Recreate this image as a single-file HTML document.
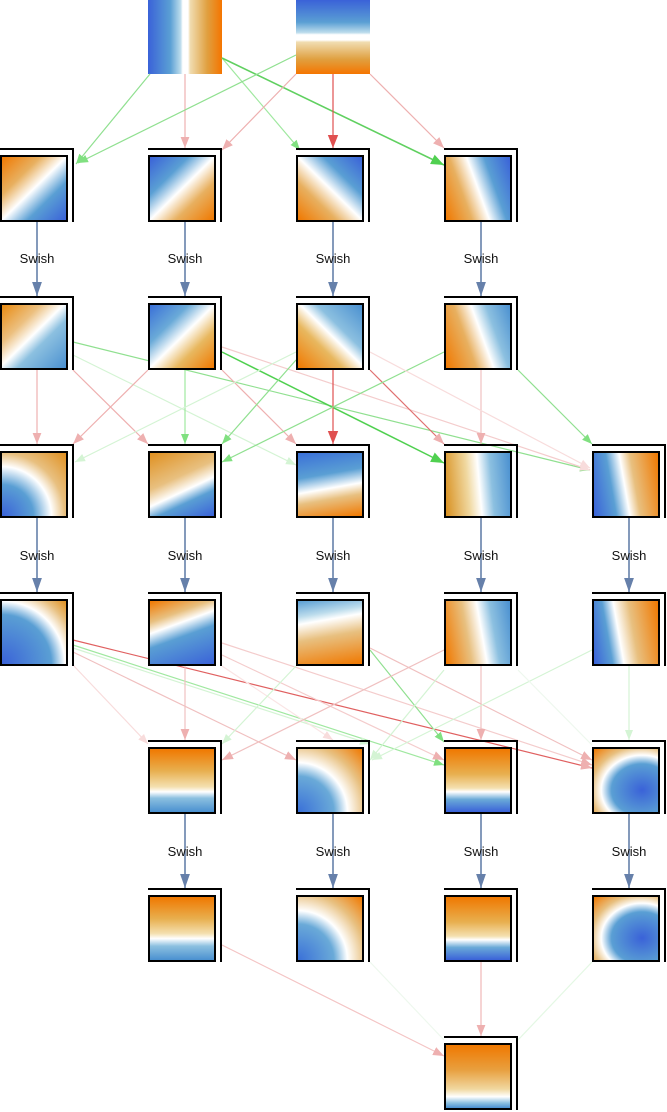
<!DOCTYPE html>
<html><head><meta charset="utf-8"><style>
body{margin:0;background:#fff;width:667px;height:1112px;position:relative;overflow:hidden;font-family:"Liberation Sans",sans-serif}
.n{position:absolute;width:74px;height:74px}
.n .f{position:absolute;left:0;top:0;width:74px;height:74px;border-top:2px solid #000;border-right:2px solid #000;box-sizing:border-box}
.n .i{position:absolute;left:0;top:7px;width:68px;height:67px;border:2px solid #000;box-sizing:border-box}
.in{position:absolute;width:74px;height:74px}
svg{position:absolute;left:0;top:0}
.lbl{position:absolute;font-size:13px;color:#111;width:60px;text-align:center}
</style></head><body>
<div class="in" style="left:148px;top:0;background:linear-gradient(to right,#3a62d8,#5a9fd4 30%,#bcdcec 44%,#fff 47%,#fff 54%,#f0dcb0 57%,#e0a040 80%,#f57500)"></div>
<div class="in" style="left:296px;top:0;background:linear-gradient(to bottom,#3a62d8,#5a9fd4 30%,#bcdcec 44%,#fff 47%,#fff 54%,#f0dcb0 57%,#e0a040 80%,#f57500)"></div>

<svg width="667" height="1112" viewBox="0 0 667 1112">
<defs>
<marker id="g" viewBox="0 0 10 10" refX="10" refY="5" markerWidth="10" markerHeight="10" markerUnits="userSpaceOnUse" orient="auto"><path d="M0,1 L10,5 L0,9z" fill="#80e080"/></marker>
<marker id="gs" viewBox="0 0 10 10" refX="10" refY="5" markerWidth="13" markerHeight="13" markerUnits="userSpaceOnUse" orient="auto"><path d="M0,1 L10,5 L0,9z" fill="#50d050"/></marker>
<marker id="gl" viewBox="0 0 10 10" refX="10" refY="5" markerWidth="10" markerHeight="10" markerUnits="userSpaceOnUse" orient="auto"><path d="M0,1 L10,5 L0,9z" fill="#d4f4d4"/></marker>
<marker id="p" viewBox="0 0 10 10" refX="10" refY="5" markerWidth="11" markerHeight="11" markerUnits="userSpaceOnUse" orient="auto"><path d="M0,1 L10,5 L0,9z" fill="#eeb0b0"/></marker>
<marker id="pl" viewBox="0 0 10 10" refX="10" refY="5" markerWidth="10" markerHeight="10" markerUnits="userSpaceOnUse" orient="auto"><path d="M0,1 L10,5 L0,9z" fill="#f8dcdc"/></marker>
<marker id="r" viewBox="0 0 10 10" refX="10" refY="5" markerWidth="13" markerHeight="13" markerUnits="userSpaceOnUse" orient="auto"><path d="M0,1 L10,5 L0,9z" fill="#e05050"/></marker>
<marker id="b" viewBox="0 0 10 10" refX="10" refY="5" markerWidth="14" markerHeight="14" markerUnits="userSpaceOnUse" orient="auto"><path d="M0,1.5 L10,5 L0,8.5z" fill="#6680aa"/></marker>
</defs>
<g fill="none" stroke-width="1.2">
<line x1="150" y1="74" x2="76" y2="164" stroke="#90e090" marker-end="url(#g)"/>
<line x1="185" y1="74" x2="185" y2="148" stroke="#eeb0b0" marker-end="url(#p)"/>
<line x1="222" y1="58" x2="300" y2="150" stroke="#a0e8a0" marker-end="url(#g)"/>
<line x1="222" y1="58" x2="444" y2="165" stroke="#60d060" stroke-width="1.6" marker-end="url(#gs)"/>
<line x1="296" y1="55" x2="78" y2="163" stroke="#90e090" marker-end="url(#g)"/>
<line x1="296" y1="74" x2="222" y2="150" stroke="#eeb0b0" marker-end="url(#p)"/>
<line x1="333" y1="74" x2="333" y2="148" stroke="#e05050" marker-end="url(#r)"/>
<line x1="370" y1="74" x2="444" y2="148" stroke="#eeb0b0" marker-end="url(#p)"/>
<line x1="37" y1="370" x2="37" y2="444" stroke="#eeb0b0" marker-end="url(#p)"/>
<line x1="73" y1="342" x2="590" y2="470" stroke="#90e090" marker-end="url(#g)"/>
<line x1="73" y1="355" x2="296" y2="465" stroke="#d4f4d4" marker-end="url(#gl)"/>
<line x1="73" y1="370" x2="148" y2="444" stroke="#eeb0b0" marker-end="url(#p)"/>
<line x1="148" y1="370" x2="73" y2="444" stroke="#eeb0b0" marker-end="url(#p)"/>
<line x1="185" y1="370" x2="185" y2="444" stroke="#a0e8a0" marker-end="url(#g)"/>
<line x1="222" y1="347" x2="590" y2="470" stroke="#f4cccc" marker-end="url(#pl)"/>
<line x1="222" y1="370" x2="296" y2="444" stroke="#eeb0b0" marker-end="url(#p)"/>
<line x1="222" y1="352" x2="444" y2="463" stroke="#50d050" stroke-width="1.5" marker-end="url(#gs)"/>
<line x1="296" y1="360" x2="222" y2="444" stroke="#90e090" marker-end="url(#g)"/>
<line x1="296" y1="352" x2="75" y2="462" stroke="#d4f4d4" marker-end="url(#gl)"/>
<line x1="333" y1="370" x2="333" y2="444" stroke="#e05050" marker-end="url(#r)"/>
<line x1="370" y1="370" x2="444" y2="444" stroke="#e07070" marker-end="url(#p)"/>
<line x1="444" y1="352" x2="222" y2="462" stroke="#90e090" marker-end="url(#g)"/>
<line x1="481" y1="370" x2="481" y2="444" stroke="#f0c0c0" marker-end="url(#p)"/>
<line x1="518" y1="370" x2="592" y2="444" stroke="#90e090" marker-end="url(#g)"/>
<line x1="370" y1="352" x2="590" y2="468" stroke="#f8dcdc" marker-end="url(#pl)"/>
<line x1="73" y1="640" x2="592" y2="768" stroke="#e06060" marker-end="url(#p)"/>
<line x1="73" y1="645" x2="444" y2="765" stroke="#a0e8a0" marker-end="url(#g)"/>
<line x1="73" y1="652" x2="296" y2="760" stroke="#f0c0c0" marker-end="url(#p)"/>
<line x1="73" y1="665" x2="148" y2="744" stroke="#f8dcdc" marker-end="url(#pl)"/>
<line x1="73" y1="648" x2="370" y2="744" stroke="#d4f4d4" marker-end="url(#gl)"/>
<line x1="185" y1="666" x2="185" y2="740" stroke="#f0c0c0" marker-end="url(#p)"/>
<line x1="222" y1="643" x2="592" y2="765" stroke="#f4cccc" marker-end="url(#p)"/>
<line x1="222" y1="655" x2="444" y2="760" stroke="#f4cccc" marker-end="url(#p)"/>
<line x1="222" y1="666" x2="333" y2="740" stroke="#fae4e4" marker-end="url(#pl)"/>
<line x1="296" y1="666" x2="222" y2="744" stroke="#d4f4d4" marker-end="url(#gl)"/>
<line x1="370" y1="650" x2="444" y2="742" stroke="#90e090" marker-end="url(#g)"/>
<line x1="370" y1="648" x2="592" y2="760" stroke="#f0c0c0" marker-end="url(#p)"/>
<line x1="444" y1="650" x2="222" y2="760" stroke="#f0c0c0" marker-end="url(#p)"/>
<line x1="481" y1="666" x2="481" y2="740" stroke="#f0c0c0" marker-end="url(#p)"/>
<line x1="444" y1="670" x2="370" y2="760" stroke="#d4f4d4" marker-end="url(#gl)"/>
<line x1="592" y1="650" x2="372" y2="760" stroke="#d4f4d4" marker-end="url(#gl)"/>
<line x1="629" y1="666" x2="629" y2="740" stroke="#d4f4d4" marker-end="url(#gl)"/>
<line x1="518" y1="670" x2="592" y2="745" stroke="#eef8ee"/>
<line x1="222" y1="945" x2="444" y2="1056" stroke="#f4c4c4" marker-end="url(#p)"/>
<line x1="481" y1="962" x2="481" y2="1036" stroke="#f0b8b8" marker-end="url(#p)"/>
<line x1="592" y1="962" x2="518" y2="1040" stroke="#e4f8e4"/>
<line x1="370" y1="962" x2="444" y2="1040" stroke="#eef8ee"/>
<g stroke="#6680aa" stroke-width="1.6">
<line x1="37" y1="222" x2="37" y2="296" marker-end="url(#b)"/>
<line x1="185" y1="222" x2="185" y2="296" marker-end="url(#b)"/>
<line x1="333" y1="222" x2="333" y2="296" marker-end="url(#b)"/>
<line x1="481" y1="222" x2="481" y2="296" marker-end="url(#b)"/>
<line x1="37" y1="518" x2="37" y2="592" marker-end="url(#b)"/>
<line x1="185" y1="518" x2="185" y2="592" marker-end="url(#b)"/>
<line x1="333" y1="518" x2="333" y2="592" marker-end="url(#b)"/>
<line x1="481" y1="518" x2="481" y2="592" marker-end="url(#b)"/>
<line x1="629" y1="518" x2="629" y2="592" marker-end="url(#b)"/>
<line x1="185" y1="814" x2="185" y2="888" marker-end="url(#b)"/>
<line x1="333" y1="814" x2="333" y2="888" marker-end="url(#b)"/>
<line x1="481" y1="814" x2="481" y2="888" marker-end="url(#b)"/>
<line x1="629" y1="814" x2="629" y2="888" marker-end="url(#b)"/>
</g>
</g>
</svg>

<div class="lbl" style="left:7px;top:251px">Swish</div>
<div class="lbl" style="left:155px;top:251px">Swish</div>
<div class="lbl" style="left:303px;top:251px">Swish</div>
<div class="lbl" style="left:451px;top:251px">Swish</div>
<div class="lbl" style="left:7px;top:548px">Swish</div>
<div class="lbl" style="left:155px;top:548px">Swish</div>
<div class="lbl" style="left:303px;top:548px">Swish</div>
<div class="lbl" style="left:451px;top:548px">Swish</div>
<div class="lbl" style="left:599px;top:548px">Swish</div>
<div class="lbl" style="left:155px;top:844px">Swish</div>
<div class="lbl" style="left:303px;top:844px">Swish</div>
<div class="lbl" style="left:451px;top:844px">Swish</div>
<div class="lbl" style="left:599px;top:844px">Swish</div>

<div class="n" style="left:0;top:148px"><div class="f"></div><div class="i" style="background:linear-gradient(to bottom right,#f07800,#e8b060 30%,#fff 50%,#5a9fd4 70%,#3a62d8)"></div></div>
<div class="n" style="left:148px;top:148px"><div class="f"></div><div class="i" style="background:linear-gradient(to bottom right,#3a62d8,#5a9fd4 30%,#fff 50%,#e8b060 70%,#f07800)"></div></div>
<div class="n" style="left:296px;top:148px"><div class="f"></div><div class="i" style="background:linear-gradient(to bottom left,#3a62d8,#5a9fd4 30%,#fff 50%,#e8b060 70%,#f07800)"></div></div>
<div class="n" style="left:444px;top:148px"><div class="f"></div><div class="i" style="background:linear-gradient(70deg,#f07800,#e8b060 30%,#fff 50%,#5a9fd4 70%,#3a62d8)"></div></div>
<div class="n" style="left:0;top:296px"><div class="f"></div><div class="i" style="background:linear-gradient(to bottom right,#e88a10,#ecc080 30%,#fff 48%,#8cc0e0 62%,#4a90d0)"></div></div>
<div class="n" style="left:148px;top:296px"><div class="f"></div><div class="i" style="background:linear-gradient(to bottom right,#3a70d8,#6aaad8 30%,#fff 50%,#e8b860 70%,#f07800)"></div></div>
<div class="n" style="left:296px;top:296px"><div class="f"></div><div class="i" style="background:linear-gradient(to bottom left,#4a90d0,#8cc0e0 35%,#fff 48%,#e8b860 65%,#f07800)"></div></div>
<div class="n" style="left:444px;top:296px"><div class="f"></div><div class="i" style="background:linear-gradient(70deg,#f07800,#e8b060 35%,#fff 55%,#8cc0e0 72%,#4a90d0)"></div></div>
<div class="n" style="left:0;top:444px"><div class="f"></div><div class="i" style="background:radial-gradient(circle at 0% 100%,#3a62d8,#5a9fd4 35%,#fff 55%,#e8c080 70%,#e09020)"></div></div>
<div class="n" style="left:148px;top:444px"><div class="f"></div><div class="i" style="background:linear-gradient(155deg,#e09020,#e8c080 40%,#fff 58%,#5a9fd4 72%,#3a62d8)"></div></div>
<div class="n" style="left:296px;top:444px"><div class="f"></div><div class="i" style="background:linear-gradient(170deg,#3a70d8,#5a9fd4 35%,#fff 55%,#e8c080 70%,#f07800)"></div></div>
<div class="n" style="left:444px;top:444px"><div class="f"></div><div class="i" style="background:linear-gradient(85deg,#d89020,#f0d8a0 35%,#fff 52%,#8cc0e0 70%,#4a90d0)"></div></div>
<div class="n" style="left:592px;top:444px"><div class="f"></div><div class="i" style="background:linear-gradient(80deg,#3a62d8,#5a9fd4 30%,#fff 48%,#e8c080 62%,#f07800)"></div></div>
<div class="n" style="left:0;top:592px"><div class="f"></div><div class="i" style="background:radial-gradient(circle at 0% 100%,#3a62d8,#5a9fd4 55%,#fff 70%,#e8c080 85%,#e09020)"></div></div>
<div class="n" style="left:148px;top:592px"><div class="f"></div><div class="i" style="background:linear-gradient(160deg,#f07800,#e8c080 25%,#fff 38%,#5a9fd4 55%,#3a62d8)"></div></div>
<div class="n" style="left:296px;top:592px"><div class="f"></div><div class="i" style="background:linear-gradient(170deg,#5a9fd4,#bcdcec 22%,#fff 32%,#e8c080 55%,#f07800)"></div></div>
<div class="n" style="left:444px;top:592px"><div class="f"></div><div class="i" style="background:linear-gradient(80deg,#f07800,#e8c080 35%,#fff 55%,#8cc0e0 72%,#4a90d0)"></div></div>
<div class="n" style="left:592px;top:592px"><div class="f"></div><div class="i" style="background:linear-gradient(80deg,#3a62d8,#5a9fd4 25%,#fff 40%,#e8c080 60%,#f07800)"></div></div>
<div class="n" style="left:148px;top:740px"><div class="f"></div><div class="i" style="background:linear-gradient(to bottom,#f07800,#e8b050 35%,#f4e0b0 60%,#fff 68%,#8cc0e0 78%,#4a90d0)"></div></div>
<div class="n" style="left:296px;top:740px"><div class="f"></div><div class="i" style="background:radial-gradient(circle at 0% 100%,#3a70d8,#6aaad8 40%,#fff 55%,#e8c080 75%,#f07800)"></div></div>
<div class="n" style="left:444px;top:740px"><div class="f"></div><div class="i" style="background:linear-gradient(to bottom,#f07800,#e8b050 40%,#f4e0b0 62%,#fff 68%,#6aaad8 80%,#3a62d8)"></div></div>
<div class="n" style="left:592px;top:740px"><div class="f"></div><div class="i" style="background:radial-gradient(ellipse at 75% 65%,#3a62d8,#5a9fd4 45%,#fff 60%,#e8c080 75%,#f07800)"></div></div>
<div class="n" style="left:148px;top:888px"><div class="f"></div><div class="i" style="background:linear-gradient(to bottom,#f07800,#e8b050 35%,#f4e0b0 58%,#fff 66%,#8cc0e0 78%,#4a90d0)"></div></div>
<div class="n" style="left:296px;top:888px"><div class="f"></div><div class="i" style="background:radial-gradient(circle at 0% 100%,#3a70d8,#6aaad8 40%,#fff 55%,#e8c080 75%,#f07800)"></div></div>
<div class="n" style="left:444px;top:888px"><div class="f"></div><div class="i" style="background:linear-gradient(to bottom,#f07800,#e8b050 40%,#f4e0b0 62%,#fff 68%,#6aaad8 80%,#3a62d8)"></div></div>
<div class="n" style="left:592px;top:888px"><div class="f"></div><div class="i" style="background:radial-gradient(ellipse at 75% 65%,#3a62d8,#5a9fd4 45%,#fff 60%,#e8c080 75%,#f07800)"></div></div>
<div class="n" style="left:444px;top:1036px"><div class="f"></div><div class="i" style="background:linear-gradient(to bottom,#f07800,#e8a040 40%,#f0d8a0 70%,#fff 82%,#8cc0e0 92%,#4a90d0)"></div></div>
</body></html>
